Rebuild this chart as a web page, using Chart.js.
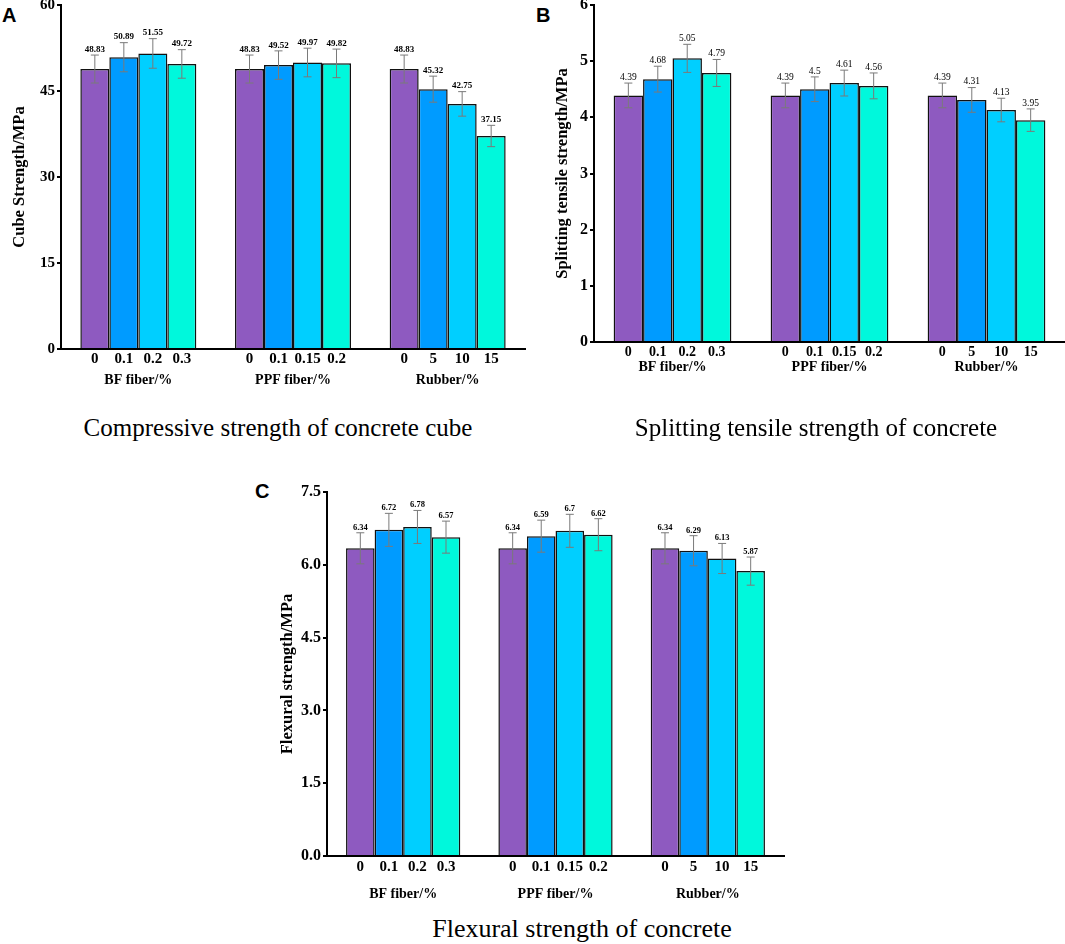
<!DOCTYPE html>
<html>
<head>
<meta charset="utf-8">
<script src="https://cdn.jsdelivr.net/npm/chart.js@4.4.1/dist/chart.umd.min.js"></script>
<style>
  html, body { margin: 0; padding: 0; background: #fff; }
  body { width: 1065px; height: 944px; position: relative; overflow: hidden; }
  canvas { position: absolute; }
  .letter { position: absolute; font-family: "Liberation Sans", Arial, sans-serif; font-weight: bold; font-size: 20px; line-height: 20px; color: #000; }
  .caption { position: absolute; font-family: "Liberation Serif", "Times New Roman", serif; font-size: 25px; line-height: 30px; color: #000; white-space: nowrap; transform: translateX(-50%); }
</style>
</head>
<body>
<div class="letter" style="left:2px; top:5px;">A</div>
<div class="letter" style="left:536px; top:5px;">B</div>
<div class="letter" style="left:255px; top:481px;">C</div>
<canvas id="cA" width="540" height="420" style="left:0px; top:-10px; width:540px; height:420px;"></canvas>
<canvas id="cB" width="530" height="420" style="left:535px; top:-10px; width:530px; height:420px;"></canvas>
<canvas id="cC" width="580" height="440" style="left:230px; top:470px; width:580px; height:440px;"></canvas>
<div class="caption" style="left:278px; top:413px;">Compressive strength of concrete cube</div>
<div class="caption" style="left:816px; top:413px;">Splitting tensile strength of concrete</div>
<div class="caption" style="left:582px; top:914px; font-size:26px;">Flexural strength of concrete</div>
<script>
// ---------- data ----------
const groups = ['BF fiber/%', 'PPF fiber/%', 'Rubber/%'];
const levelsBF = ['0', '0.1', '0.2', '0.3'];
const levelsPPF = ['0', '0.1', '0.15', '0.2'];
const levelsRubber = ['0', '5', '10', '15'];

const cubeBF = [48.83, 50.89, 51.55, 49.72];
const cubePPF = [48.83, 49.52, 49.97, 49.82];
const cubeRubber = [48.83, 45.32, 42.75, 37.15];
const cubeErrBF = [2.44, 2.54, 2.58, 2.49];
const cubeErrPPF = [2.44, 2.48, 2.50, 2.49];
const cubeErrRubber = [2.44, 2.27, 2.14, 1.86];

const splitBF = [4.39, 4.68, 5.05, 4.79];
const splitPPF = [4.39, 4.5, 4.61, 4.56];
const splitRubber = [4.39, 4.31, 4.13, 3.95];
const splitErrBF = [0.22, 0.23, 0.25, 0.24];
const splitErrPPF = [0.22, 0.22, 0.23, 0.23];
const splitErrRubber = [0.22, 0.22, 0.21, 0.20];

const flexBF = [6.34, 6.72, 6.78, 6.57];
const flexPPF = [6.34, 6.59, 6.7, 6.62];
const flexRubber = [6.34, 6.29, 6.13, 5.87];
const flexErrBF = [0.32, 0.34, 0.34, 0.33];
const flexErrPPF = [0.32, 0.33, 0.34, 0.33];
const flexErrRubber = [0.32, 0.31, 0.31, 0.29];

const barColors = ['#8E5AC0', '#009BFF', '#00CFFF', '#00F8DC'];
const SERIF = '"Liberation Serif", "Times New Roman", serif';
Chart.defaults.font.family = SERIF;
Chart.defaults.color = '#000';

// ---------- plugins ----------
const annotatePlugin = {
  id: 'annotate',
  afterDatasetsDraw(chart, args, o) {
    const ctx = chart.ctx, ys = chart.scales.y, area = chart.chartArea;
    const levelSets = [levelsBF, levelsPPF, levelsRubber];
    ctx.save();
    chart.data.datasets.forEach((ds, di) => {
      const meta = chart.getDatasetMeta(di);
      meta.data.forEach((bar, i) => {
        const v = ds.data[i], e = ds.errors[i];
        const x = bar.x;
        const yt = ys.getPixelForValue(v + e), yb = ys.getPixelForValue(v - e);
        ctx.strokeStyle = '#7a7a7a';
        ctx.lineWidth = 1;
        ctx.beginPath();
        ctx.moveTo(x, yt); ctx.lineTo(x, yb);
        ctx.moveTo(x - 4, yt); ctx.lineTo(x + 4, yt);
        ctx.moveTo(x - 4, yb); ctx.lineTo(x + 4, yb);
        ctx.stroke();
        ctx.fillStyle = '#000';
        ctx.font = o.valueFont;
        ctx.textAlign = 'center';
        ctx.textBaseline = 'bottom';
        ctx.fillText(String(v), x, yt - 1);
        // per-bar level label under the axis
        ctx.font = o.levelFont;
        ctx.textBaseline = 'middle';
        ctx.fillText(levelSets[i][di], x, area.bottom + o.levelOffset);
      });
    });
    ctx.restore();
  }
};

function buildChart(id, cfg) {
  const canvas = document.getElementById(id);
  const cx = cfg.canvasX, cy = cfg.canvasY, cw = canvas.width, ch = canvas.height;
  const series = [cfg.bf, cfg.ppf, cfg.rubber];
  const errs = [cfg.ebf, cfg.eppf, cfg.erubber];
  const datasets = [0, 1, 2, 3].map(k => ({
    data: series.map(s => s[k]),
    errors: errs.map(s => s[k]),
    backgroundColor: barColors[k],
    borderColor: '#111',
    borderWidth: 1.5,
    borderSkipped: 'start',
    barPercentage: 1,
    categoryPercentage: 0.75
  }));
  return new Chart(canvas, {
    type: 'bar',
    data: { labels: groups, datasets },
    options: {
      responsive: false,
      animation: false,
      events: [],
      layout: { padding: { left: 0, top: cfg.plotTop - cy, right: cx + cw - cfg.plotRight, bottom: 0 } },
      plugins: {
        legend: { display: false },
        tooltip: { enabled: false },
        annotate: { valueFont: cfg.valueFont, levelFont: cfg.levelFont, levelOffset: cfg.levelOffset }
      },
      scales: {
        x: {
          type: 'category',
          grid: { display: false, drawTicks: false },
          border: { display: true, color: '#000', width: 2 },
          ticks: { font: { size: 14, weight: 'bold' }, padding: cfg.groupPad, color: '#000', maxRotation: 0 },
          afterFit(s) { s.height = cy + ch - cfg.plotBottom; s.paddingLeft = 0; s.paddingRight = 0; }
        },
        y: {
          min: cfg.yMin, max: cfg.yMax,
          grid: { display: true, drawOnChartArea: false, drawTicks: true, tickLength: 4, lineWidth: 2, color: '#000' },
          border: { display: true, color: '#000', width: 2 },
          ticks: {
            stepSize: cfg.yStep, padding: 2, color: '#000',
            font: { size: cfg.yTickSize, weight: 'bold' },
            callback: v => v.toFixed(cfg.yDecimals)
          },
          title: { display: true, text: cfg.yTitle, font: { size: 16.5, weight: 'bold' }, color: '#000', padding: { top: cfg.titlePad, bottom: 0 } },
          afterFit(s) { s.width = cfg.plotLeft - cx; s.paddingTop = 0; s.paddingBottom = 0; }
        }
      }
    },
    plugins: [annotatePlugin]
  });
}

buildChart('cA', {
  canvasX: 0, canvasY: -10,
  plotLeft: 61, plotTop: 5, plotRight: 525, plotBottom: 349,
  bf: cubeBF, ppf: cubePPF, rubber: cubeRubber,
  ebf: cubeErrBF, eppf: cubeErrPPF, erubber: cubeErrRubber,
  yMin: 0, yMax: 60, yStep: 15, yDecimals: 0, yTickSize: 15,
  yTitle: 'Cube Strength/MPa', titlePad: 10,
  valueFont: 'bold 9px ' + SERIF, levelFont: 'bold 15px ' + SERIF, levelOffset: 10.5, groupPad: 23
});

buildChart('cB', {
  canvasX: 535, canvasY: -10,
  plotLeft: 594, plotTop: 5, plotRight: 1065, plotBottom: 342,
  bf: splitBF, ppf: splitPPF, rubber: splitRubber,
  ebf: splitErrBF, eppf: splitErrPPF, erubber: splitErrRubber,
  yMin: 0, yMax: 6, yStep: 1, yDecimals: 0, yTickSize: 16,
  yTitle: 'Splitting tensile strength/MPa', titlePad: 18,
  valueFont: '9.5px ' + SERIF, levelFont: 'bold 14px ' + SERIF, levelOffset: 10, groupPad: 17
});

buildChart('cC', {
  canvasX: 230, canvasY: 470,
  plotLeft: 327, plotTop: 492, plotRight: 784, plotBottom: 856,
  bf: flexBF, ppf: flexPPF, rubber: flexRubber,
  ebf: flexErrBF, eppf: flexErrPPF, erubber: flexErrRubber,
  yMin: 0, yMax: 7.5, yStep: 1.5, yDecimals: 1, yTickSize: 16,
  yTitle: 'Flexural strength/MPa', titlePad: 48,
  valueFont: 'bold 8.5px ' + SERIF, levelFont: 'bold 15px ' + SERIF, levelOffset: 11, groupPad: 30
});
</script>
</body>
</html>
